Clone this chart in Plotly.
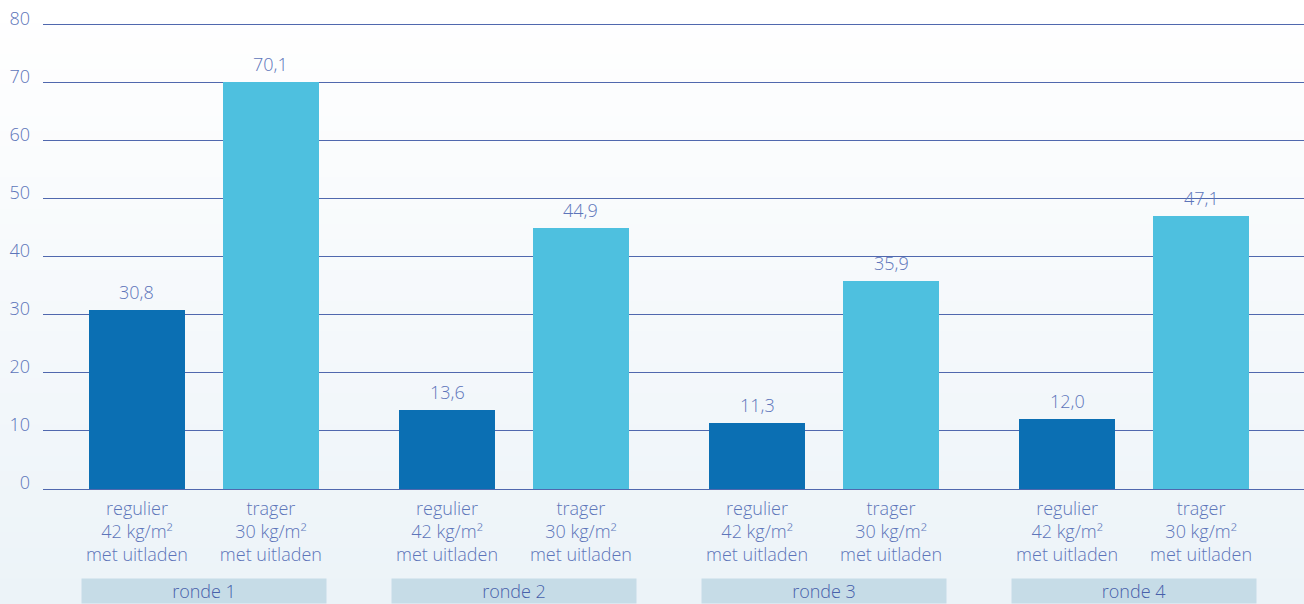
import plotly.graph_objects as go

# ---- data ----
rounds = ["ronde 1", "ronde 2", "ronde 3", "ronde 4"]
regulier = [30.8, 13.6, 11.3, 12.0]
trager = [70.1, 44.9, 35.9, 47.1]
label_regulier = "regulier<br>42 kg/m²<br>met uitladen"
label_trager = "trager<br>30 kg/m²<br>met uitladen"
y_ticks = [0, 10, 20, 30, 40, 50, 60, 70, 80]

# ---- style ----
FONT = "Open Sans"
TXT = "#5d75ba"
GRID = "#5068ae"
C_DARK = "#0b6fb3"
C_LIGHT = "#4ec0df"
OFF = 0.216
W = 0.31
Y_MAX = 80.6

grp = list(range(len(rounds)))
x_reg = [g - OFF for g in grp]
x_tra = [g + OFF for g in grp]

fig = go.Figure()
fig.add_trace(go.Bar(x=x_reg, y=regulier, width=W, marker=dict(color=C_DARK, line=dict(width=0)),
                     showlegend=False, hoverinfo="y"))
fig.add_trace(go.Bar(x=x_tra, y=trager, width=W, marker=dict(color=C_LIGHT, line=dict(width=0)),
                     showlegend=False, hoverinfo="y"))

# background gradient (white -> light blue)
N = 40
y0p, y1p = -0.26, 1.06
top = (255, 255, 255)
bot = (236, 243, 248)
shapes = []
for i in range(N):
    t = i / (N - 1)
    col = tuple(round(top[k] + (bot[k] - top[k]) * t) for k in range(3))
    ya = y1p - (y1p - y0p) * i / N
    yb = y1p - (y1p - y0p) * (i + 1) / N
    shapes.append(dict(type="rect", xref="paper", yref="paper", x0=-0.05, x1=1.05,
                       y0=yb, y1=ya + 0.002, fillcolor="rgb(%d,%d,%d)" % col,
                       line=dict(width=0), layer="below"))

tickvals = []
ticktext = []
for a, b in zip(x_reg, x_tra):
    tickvals += [a, b]
    ticktext += [label_regulier, label_trager]

annotations = []
for xs, vals in ((x_reg, regulier), (x_tra, trager)):
    for xv, v in zip(xs, vals):
        annotations.append(dict(x=xv, y=v, xref="x", yref="y", yanchor="bottom",
                                text=("%.1f" % v).replace(".", ","), showarrow=False,
                                yshift=4, font=dict(family=FONT, size=18, color=TXT, weight=300)))
for g, r in zip(grp, rounds):
    annotations.append(dict(x=g, xref="x", y=-0.1902, yref="paper", yanchor="top",
                            text=r, showarrow=False, width=244, height=24,
                            bgcolor="#c6dce7", borderpad=0,
                            font=dict(family=FONT, size=18, color="#4760aa", weight=300)))

fig.update_layout(
    width=1304, height=604,
    margin=dict(l=43, r=0, t=21, b=115),
    paper_bgcolor="white", plot_bgcolor="rgba(0,0,0,0)",
    separators=",.",
    bargap=0,
    shapes=shapes,
    annotations=annotations,
    xaxis=dict(range=[-0.519, 3.548], tickvals=tickvals, ticktext=ticktext,
               tickfont=dict(family=FONT, size=18, color=TXT, weight=300), showgrid=False,
               zeroline=False, showline=False, ticks="outside", ticklen=3,
               tickcolor="rgba(0,0,0,0)", fixedrange=True),
    yaxis=dict(range=[0, Y_MAX], tickvals=y_ticks, showgrid=True, gridcolor=GRID, gridwidth=1,
               zeroline=True, zerolinecolor=GRID, zerolinewidth=1,
               tickfont=dict(family=FONT, size=18, color=TXT, weight=300), ticklabelstandoff=12,
               ticklabelshift=-6, showline=False),
)

fig.write_html("out.html")
